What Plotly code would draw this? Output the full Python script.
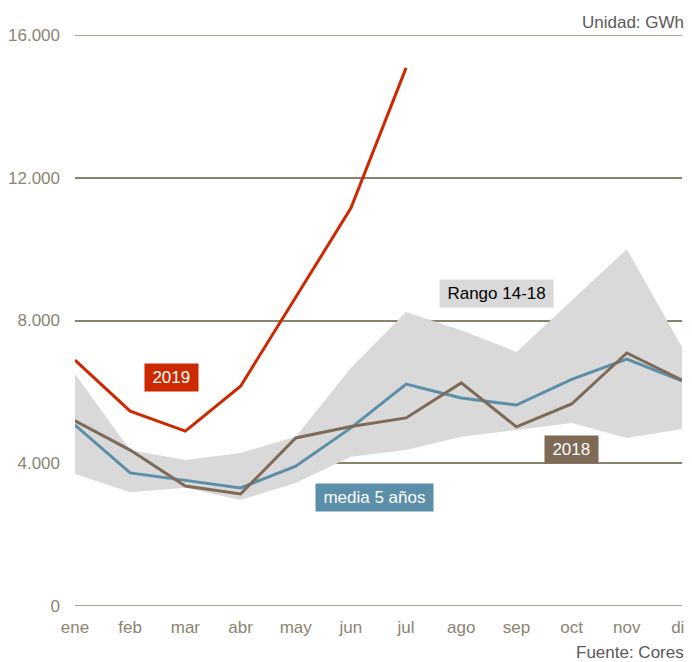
import plotly.graph_objects as go

months = ["ene", "feb", "mar", "abr", "may", "jun", "jul", "ago", "sep", "oct", "nov", "dic"]
y2019 = [6890, 5460, 4900, 6160, 8650, 11150, 15080]
media5 = [5070, 3730, 3520, 3310, 3920, 4990, 6220, 5830, 5630, 6350, 6920, 6310]
y2018 = [5190, 4370, 3360, 3140, 4710, 5030, 5270, 6250, 5020, 5660, 7090, 6330]
rango_max = [6500, 4370, 4090, 4290, 4740, 6670, 8240, 7730, 7120, 8560, 10000, 7260]
rango_min = [3700, 3190, 3310, 2970, 3450, 4180, 4370, 4740, 4930, 5130, 4710, 4960]
y_ticks = [0, 4000, 8000, 12000, 16000]

RED = "#cc2900"
BLUE = "#5b8ea8"
BROWN = "#7e6a55"
BAND = "#d9d9d9"
GRID = "#8c816d"
TICK = "#8c8472"
FONT = "Liberation Sans, Arial"

fig = go.Figure()
fig.add_trace(go.Scatter(x=months, y=rango_min, mode="lines", line=dict(width=0, color=BAND),
                         showlegend=False, hoverinfo="skip"))
fig.add_trace(go.Scatter(x=months, y=rango_max, mode="lines", line=dict(width=0, color=BAND),
                         fill="tonexty", fillcolor=BAND, showlegend=False, hoverinfo="skip"))
fig.add_trace(go.Scatter(x=months, y=media5, mode="lines", line=dict(width=3, color=BLUE), showlegend=False))
fig.add_trace(go.Scatter(x=months, y=y2018, mode="lines", line=dict(width=3, color=BROWN), showlegend=False))
fig.add_trace(go.Scatter(x=months[:len(y2019)], y=y2019, mode="lines", line=dict(width=3, color=RED), showlegend=False))

# edge gridlines (plotly suppresses grid at the range edges)
for v in (y_ticks[0], y_ticks[-1]):
    fig.add_shape(type="line", xref="paper", yref="y", x0=0, x1=1, y0=v, y1=v,
                  line=dict(color=GRID, width=1.5), layer="below")

def label(x, y, text, bg, fg):
    fig.add_annotation(x=x, y=y, xref="x", yref="y", text="\u2009" + text + "\u2009", showarrow=False,
                       bgcolor=bg, font=dict(color=fg, size=17, family=FONT),
                       borderpad=4)

label(1.74, 6390, "2019", RED, "white")
label(5.42, 3030, "media 5 años", BLUE, "white")
label(7.63, 8760, "Rango 14-18", BAND, "black")
label(9.0, 4390, "2018", BROWN, "white")

fig.add_annotation(x=1, y=1, xref="paper", yref="paper", xanchor="right", yanchor="middle",
                   text="Unidad: GWh", showarrow=False, yshift=13, xshift=4,
                   font=dict(color="#595959", size=17, family=FONT))
fig.add_annotation(x=1, y=0, xref="paper", yref="paper", xanchor="right", yanchor="middle",
                   text="Fuente: Cores", showarrow=False, yshift=-46, xshift=4,
                   font=dict(color="#595959", size=17, family=FONT))

# page body adds an 8px margin, so the figure is 8px smaller and margins shifted
fig.update_layout(
    width=684, height=654,
    margin=dict(l=67, r=10, t=27, b=56),
    plot_bgcolor="white", paper_bgcolor="white",
    separators=",.",
    font=dict(family=FONT, size=17, color=TICK),
    xaxis=dict(range=[0, 11], showgrid=False, zeroline=False, showline=False, automargin=False,
               ticks="", ticklabelstandoff=9, tickfont=dict(size=17, color=TICK), fixedrange=True),
    yaxis=dict(range=[0, 16000], tickvals=y_ticks, tickformat=",d", automargin=False,
               showgrid=True, gridcolor=GRID, gridwidth=1.5, zeroline=False, showline=False,
               ticks="", ticklabelstandoff=14, tickfont=dict(size=17, color=TICK)),
)

fig.write_html("out.html")
